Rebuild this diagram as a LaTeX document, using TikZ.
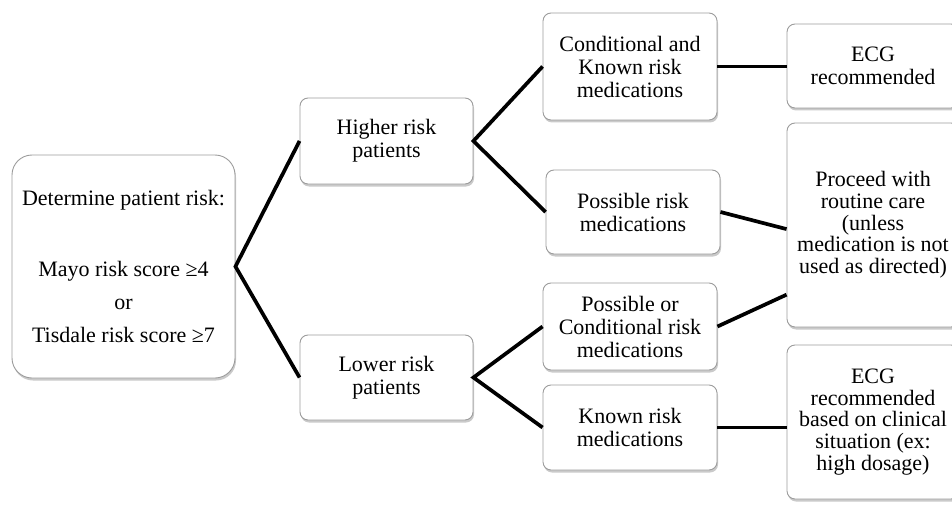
\documentclass[tikz,border=0pt]{standalone}
\usepackage{fontspec}
\setmainfont{Liberation Serif}
\usetikzlibrary{shadows,calc}
\definecolor{boxline}{HTML}{9C9C9C}
\tikzset{
  box/.style={draw=boxline, line width=0.9pt, fill=white, rounded corners=8pt,
    align=center, inner sep=2pt,
    font=\fontsize{22}{23}\selectfont,
    drop shadow={shadow xshift=1pt, shadow yshift=-2.5pt, opacity=0.35, fill=black!60}},
  link/.style={line width=3.7pt, black},
}
\begin{document}
\begin{tikzpicture}[x=1pt,y=-1pt]
\useasboundingbox (0,0) rectangle (952,505);
% nodes
\node[box, rounded corners=20pt, minimum width=223pt, minimum height=223pt,
      font=\fontsize{22}{33}\selectfont] (L) at (123.5,266.5)
  {Determine patient risk:\\[38pt]Mayo risk score ≥4\\or\\Tisdale risk score ≥7};
\node[box, minimum width=173pt, minimum height=86pt] (H) at (386.5,141) {Higher risk\\patients};
\node[box, minimum width=173pt, minimum height=85pt] (Lo) at (386.5,377.5) {Lower risk\\patients};
\node[box, minimum width=174pt, minimum height=107pt] (CK) at (630,66.5) {Conditional and\\Known risk\\medications};
\node[box, minimum width=174pt, minimum height=84pt] (P) at (633,212) {Possible risk\\medications};
\node[box, minimum width=174pt, minimum height=87pt] (PC) at (630,326.5) {Possible or\\Conditional risk\\medications};
\node[box, minimum width=174pt, minimum height=85pt] (K) at (630,427.5) {Known risk\\medications};
\node[box, minimum width=172pt, minimum height=84pt] (E1) at (873,66) {ECG\\recommended};
\node[box, minimum width=172pt, minimum height=204pt, font=\fontsize{22}{21.7}\selectfont] (Pr) at (873,225)
  {Proceed with\\routine care\\(unless\\medication is not\\used as directed)};
\node[box, minimum width=172pt, minimum height=154pt, font=\fontsize{22}{21.7}\selectfont] (E2) at (873,422)
  {ECG\\recommended\\based on clinical\\situation (ex:\\high dosage)};
% connectors
\draw[link] (H.west) -- (L.east) -- (Lo.west);
\draw[link] (CK.west) -- (H.east) -- (P.west);
\draw[link] (PC.west) -- (Lo.east) -- (K.west);
\draw[link] (CK.east) -- (CK.east -| E1.west);
\draw[link] (P.east) -- ($(Pr.north west)!0.52!(Pr.south west)$);
\draw[link] (PC.east) -- ($(Pr.north west)!0.84!(Pr.south west)$);
\draw[link] (K.east) -- (K.east -| E2.west);
\end{tikzpicture}
\end{document}
